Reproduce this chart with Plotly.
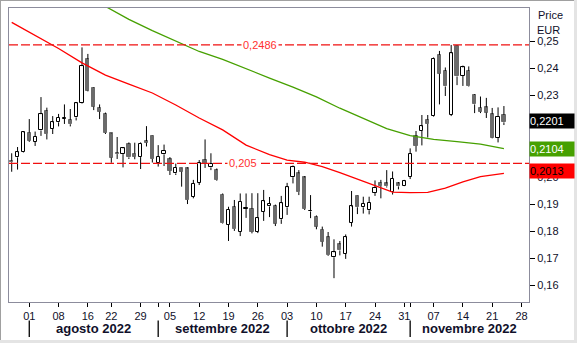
import plotly.graph_objects as go

# ---- trading sessions on the time axis (Ferragosto 15 Aug closed) ----
sessions = (
    ["2022-07-%02d" % d for d in (27, 28, 29)]
    + ["2022-08-%02d" % d for d in (1, 2, 3, 4, 5, 8, 9, 10, 11, 12, 16, 17, 18, 19,
                                     22, 23, 24, 25, 26, 29, 30, 31)]
    + ["2022-09-%02d" % d for d in (1, 2, 5, 6, 7, 8, 9, 12, 13, 14, 15, 16,
                                     19, 20, 21, 22, 23, 26, 27, 28, 29, 30)]
    + ["2022-10-%02d" % d for d in (3, 4, 5, 6, 7, 10, 11, 12, 13, 14, 17, 18, 19, 20, 21,
                                     24, 25, 26, 27, 28, 31)]
    + ["2022-11-%02d" % d for d in (1, 2, 3, 4, 7, 8, 9, 10, 11, 14, 15, 16, 17, 18,
                                     21, 22, 23, 24, 25, 28)]
)

# ---- daily prices (EUR), 27 Jul - 23 Nov 2022 ----
open_ = [0.2059, 0.2072, 0.2093, 0.2163, 0.2130, 0.2171, 0.2243, 0.2178, 0.2201, 0.2215,
         0.2210, 0.2219, 0.2271, 0.2434, 0.2329, 0.2254, 0.2232, 0.2160, 0.2088, 0.2084,
         0.2121, 0.2086, 0.2073, 0.2132, 0.2151, 0.2052, 0.2083, 0.2065, 0.2013, 0.2032,
         0.2031, 0.1927, 0.1979, 0.2062, 0.2035, 0.2025, 0.1935, 0.1823, 0.1889, 0.1798,
         0.1882, 0.1882, 0.1798, 0.1872, 0.1891, 0.1893, 0.1844, 0.1888, 0.1999, 0.2013,
         0.1998, 0.1873, 0.1853, 0.1806, 0.1778, 0.1704, 0.1752, 0.1716, 0.1831, 0.1930,
         0.1888, 0.1877, 0.1942, 0.1978, 0.1976, 0.1944, 0.1976, 0.1968, 0.2000, 0.2149,
         0.2170, 0.2210, 0.2225, 0.2449, 0.2390, 0.2228, 0.2482, 0.2372, 0.2390, 0.2302,
         0.2254, 0.2256, 0.2231, 0.2143, 0.2228]
high = [0.2087, 0.2110, 0.2169, 0.2213, 0.2167, 0.2294, 0.2255, 0.2224, 0.2232, 0.2267,
        0.2250, 0.2276, 0.2477, 0.2453, 0.2331, 0.2267, 0.2237, 0.2162, 0.2147, 0.2110,
        0.2127, 0.2126, 0.2127, 0.2187, 0.2152, 0.2117, 0.2119, 0.2073, 0.2049, 0.2033,
        0.2035, 0.1989, 0.2062, 0.2138, 0.2087, 0.2031, 0.1939, 0.1890, 0.1915, 0.1939,
        0.1939, 0.1940, 0.1940, 0.1952, 0.1926, 0.1898, 0.1930, 0.1978, 0.2042, 0.2025,
        0.2003, 0.1933, 0.1858, 0.1817, 0.1797, 0.1770, 0.1764, 0.1788, 0.1948, 0.1931,
        0.1927, 0.1927, 0.1987, 0.1989, 0.2025, 0.2020, 0.1981, 0.1989, 0.2105, 0.2169,
        0.2228, 0.2228, 0.2440, 0.2464, 0.2403, 0.2486, 0.2484, 0.2410, 0.2407, 0.2305,
        0.2296, 0.2291, 0.2254, 0.2256, 0.2261]
low = [0.2019, 0.2027, 0.2090, 0.2129, 0.2114, 0.2151, 0.2138, 0.2158, 0.2186, 0.2195,
       0.2186, 0.2208, 0.2269, 0.2315, 0.2246, 0.2213, 0.2158, 0.2052, 0.2066, 0.2035,
       0.2066, 0.2065, 0.2029, 0.2112, 0.2053, 0.2038, 0.2040, 0.2007, 0.2007, 0.1964,
       0.1900, 0.1921, 0.1970, 0.2033, 0.2025, 0.1986, 0.1827, 0.1764, 0.1801, 0.1782,
       0.1849, 0.1792, 0.1793, 0.1838, 0.1852, 0.1819, 0.1827, 0.1860, 0.1976, 0.1933,
       0.1878, 0.1848, 0.1807, 0.1743, 0.1709, 0.1627, 0.1711, 0.1698, 0.1817, 0.1863,
       0.1865, 0.1862, 0.1930, 0.1921, 0.1961, 0.1935, 0.1954, 0.1966, 0.1992, 0.2093,
       0.2116, 0.2145, 0.2222, 0.2267, 0.2298, 0.2224, 0.2338, 0.2335, 0.2331, 0.2235,
       0.2235, 0.2217, 0.2142, 0.2127, 0.2191]
close = [0.2054, 0.2091, 0.2164, 0.2133, 0.2147, 0.2231, 0.2158, 0.2201, 0.2217, 0.2217,
         0.2194, 0.2271, 0.2408, 0.2318, 0.2259, 0.2240, 0.2162, 0.2071, 0.2084, 0.2105,
         0.2072, 0.2074, 0.2123, 0.2126, 0.2066, 0.2073, 0.2095, 0.2022, 0.2033, 0.2019,
         0.1915, 0.1974, 0.2050, 0.2048, 0.2048, 0.1989, 0.1829, 0.1878, 0.1808, 0.1909,
         0.1884, 0.1798, 0.1848, 0.1910, 0.1900, 0.1828, 0.1903, 0.1962, 0.2036, 0.1944,
         0.1882, 0.1874, 0.1817, 0.1761, 0.1712, 0.1722, 0.1729, 0.1778, 0.1891, 0.1888,
         0.1900, 0.1905, 0.1960, 0.1967, 0.1965, 0.1994, 0.1965, 0.1984, 0.2084, 0.2114,
         0.2186, 0.2195, 0.2434, 0.2380, 0.2333, 0.2455, 0.2370, 0.2403, 0.2333, 0.2267,
         0.2240, 0.2237, 0.2144, 0.2221, 0.2201]

# ---- moving averages ----
ma_red_days = ["2022-07-27", "2022-08-02", "2022-08-08", "2022-08-12", "2022-08-19",
               "2022-08-25", "2022-08-31", "2022-09-06", "2022-09-12", "2022-09-16",
               "2022-09-22", "2022-09-28", "2022-10-03", "2022-10-06", "2022-10-11",
               "2022-10-14", "2022-10-19", "2022-10-24", "2022-10-27", "2022-11-01",
               "2022-11-04", "2022-11-09", "2022-11-14", "2022-11-17", "2022-11-23"]
ma_red = [0.2569, 0.2522, 0.2473, 0.2420, 0.2375, 0.2342, 0.2309, 0.2265, 0.2217, 0.2173,
          0.2117, 0.2082, 0.2062, 0.2054, 0.2038, 0.2016, 0.1992, 0.1967, 0.1944, 0.1942,
          0.1943, 0.1959, 0.1982, 0.2001, 0.2013]
ma_green_days = ["2022-08-19", "2022-08-25", "2022-08-31", "2022-09-06", "2022-09-12",
                 "2022-09-16", "2022-09-22", "2022-09-28", "2022-10-04", "2022-10-10",
                 "2022-10-14", "2022-10-20", "2022-10-26", "2022-11-01", "2022-11-07",
                 "2022-11-11", "2022-11-17", "2022-11-23"]
ma_green = [0.2628, 0.2580, 0.2539, 0.2500, 0.2462, 0.2433, 0.2397, 0.2364, 0.2331, 0.2295,
            0.2253, 0.2215, 0.2178, 0.2152, 0.2138, 0.2130, 0.2121, 0.2104]

# ---- horizontal levels ----
levels = [0.2486, 0.205]
level_label_days = ["2022-09-26", "2022-09-21"]

# ---- price scale ----
price_ticks = [0.16, 0.17, 0.18, 0.19, 0.20, 0.21, 0.22, 0.23, 0.24, 0.25]

# ---- time axis labels ----
tick_days = ["2022-08-01", "2022-08-08", "2022-08-16", "2022-08-22", "2022-08-29",
             "2022-09-05", "2022-09-12", "2022-09-19", "2022-09-26", "2022-10-03",
             "2022-10-10", "2022-10-17", "2022-10-24", "2022-10-31", "2022-11-07",
             "2022-11-14", "2022-11-21", "2022-11-28"]
month_starts = ["2022-08-01", "2022-09-01", "2022-10-03", "2022-11-01"]
month_names = ["agosto 2022", "settembre 2022", "ottobre 2022", "novembre 2022"]

# ---------------------------------------------------------------------
pos = {d: i for i, d in enumerate(sessions)}
n = len(close)
xs = list(range(n))

X_RANGE = [-0.46, 88.28]
Y_RANGE = [0.15392, 0.26221]
ML, MR, MT, MB = 9, 48, 8, 41
W, H = 577, 343
PW, PH = W - ML - MR, H - MT - MB


def px_x(p):
    return (p - ML) / PW


def px_y(p):
    return 1 - (p - MT) / PH


def fmt(v, nd=4):
    return ("%.*f" % (nd, v)).replace(".", ",")


INK = "#000000"
GREY_BODY = "#6b6b6b"
RED = "#ff0000"
GREEN = "#46a000"

fig = go.Figure()

# wicks: above and below each body
wx, wy = [], []
for i in xs:
    top, bot = max(open_[i], close[i]), min(open_[i], close[i])
    wx += [i, i, None, i, i, None]
    wy += [high[i], top, None, bot, low[i], None]

# bodies
up = [c >= o for o, c in zip(open_, close)]
fig.add_trace(go.Bar(
    x=xs,
    base=[min(o, c) for o, c in zip(open_, close)],
    y=[abs(c - o) for o, c in zip(open_, close)],
    width=0.55,
    marker=dict(color=["white" if u else GREY_BODY for u in up],
                line=dict(color=[INK if u else GREY_BODY for u in up], width=1)),
    hoverinfo="skip",
))
fig.add_trace(go.Scatter(x=wx, y=wy, mode="lines",
                         line=dict(color=INK, width=1), hoverinfo="skip"))

# moving averages
fig.add_trace(go.Scatter(x=[pos[d] for d in ma_green_days], y=ma_green, mode="lines",
                         line=dict(color=GREEN, width=1.3), hoverinfo="skip"))
fig.add_trace(go.Scatter(x=[pos[d] for d in ma_red_days], y=ma_red, mode="lines",
                         line=dict(color=RED, width=1.3), hoverinfo="skip"))

shapes = []
annotations = []

# dashed levels with their value labels
for lv, d in zip(levels, level_label_days):
    shapes.append(dict(type="line", xref="paper", x0=0, x1=1, yref="y", y0=lv, y1=lv,
                       line=dict(color="#f01010", width=1.3, dash="9px,3px"), layer="above"))
    annotations.append(dict(xref="x", x=pos[d] + 0.4, yref="y", y=lv,
                            text=("%g" % lv).replace(".", ","), showarrow=False,
                            bgcolor="white", borderpad=1,
                            font=dict(size=11, color="#ff3030")))

# last-value boxes on the price scale (the lowest one sits a touch higher)
last_boxes = ((close[-1], "#000000", "white", 1),
              (ma_green[-1], GREEN, "white", 0),
              (ma_red[-1], RED, "#000000", 2))
for v, bg, fg, shift in last_boxes:
    annotations.append(dict(xref="paper", x=1, xanchor="left", yref="y", y=v,
                            yanchor="middle", yshift=shift, text=fmt(v), showarrow=False,
                            bgcolor=bg, width=44, height=14, borderpad=0, align="left",
                            font=dict(size=11, color=fg)))

# price levels fully covered by a last-value box carry no label
covered = {round(v, 2) for v, _, _, _ in last_boxes[:2]}
tick_txt_y = ["" if round(t, 2) in covered else fmt(t, 2) for t in price_ticks]

# scale header
annotations.append(dict(xref="paper", x=px_x(536), xanchor="left", yref="paper",
                        y=px_y(15), yanchor="middle", text="Price", showarrow=False,
                        font=dict(size=11, color="#10102a")))
annotations.append(dict(xref="paper", x=px_x(534.5), xanchor="left", yref="paper",
                        y=px_y(30.3), yanchor="middle", text="EUR", showarrow=False,
                        font=dict(size=11, color="#10102a")))

# month separators and names
starts = [pos[d] for d in month_starts]
ends = starts[1:] + [X_RANGE[1]]
for s, e, name in zip(starts, ends, month_names):
    shapes.append(dict(type="line", xref="x", x0=s, x1=s, yref="paper",
                       y0=px_y(320.5), y1=px_y(337), line=dict(color=INK, width=1.3)))
    annotations.append(dict(xref="x", x=(s + e) / 2, yref="paper", y=px_y(328.5),
                            yanchor="middle", text="<b>%s</b>" % name, showarrow=False,
                            font=dict(size=13, color="#10102a")))

# window frame
shapes += [
    dict(type="line", xref="paper", yref="paper", x0=px_x(0), x1=px_x(W), y0=px_y(0.5),
         y1=px_y(0.5), line=dict(color="#a0a0a0", width=1)),
    dict(type="line", xref="paper", yref="paper", x0=px_x(0.5), x1=px_x(0.5), y0=px_y(0),
         y1=px_y(H), line=dict(color="#a0a0a0", width=1)),
    dict(type="rect", xref="paper", yref="paper", x0=px_x(574), x1=px_x(W), y0=px_y(0),
         y1=px_y(H), line=dict(width=0), fillcolor="#e4e4e4"),
    dict(type="rect", xref="paper", yref="paper", x0=px_x(0), x1=px_x(W), y0=px_y(340),
         y1=px_y(H), line=dict(width=0), fillcolor="#e4e4e4"),
]

week_pos = [pos[d] for d in tick_days]
extra = [p for p in starts if p not in week_pos]
tick_pos = week_pos + extra
tick_txt = [d[-2:] for d in tick_days] + ["" for _ in extra]

fig.update_layout(
    width=W, height=H,
    margin=dict(l=ML, r=MR, t=MT, b=MB),
    paper_bgcolor="white", plot_bgcolor="white",
    showlegend=False, bargap=0,
    font=dict(family="Liberation Sans, Arial, sans-serif", size=11, color="#10102a"),
    shapes=shapes, annotations=annotations,
    xaxis=dict(range=X_RANGE, tickmode="array", tickvals=tick_pos, ticktext=tick_txt,
               ticks="outside", ticklen=4, tickcolor=INK, tickwidth=1,
               showline=True, linecolor="#8c8c9c", linewidth=1, mirror=True,
               showgrid=False, zeroline=False, fixedrange=True,
               tickfont=dict(size=11, color="#10102a")),
    yaxis=dict(range=Y_RANGE, side="right", tickmode="array", tickvals=price_ticks,
               ticktext=tick_txt_y,
               ticks="outside", ticklen=5, tickcolor=INK, tickwidth=1,
               showline=True, linecolor="#8c8c9c", linewidth=1, mirror=True,
               showgrid=False, zeroline=False, fixedrange=True,
               tickfont=dict(size=11, color="#10102a")),
)

fig.write_html("out.html")
